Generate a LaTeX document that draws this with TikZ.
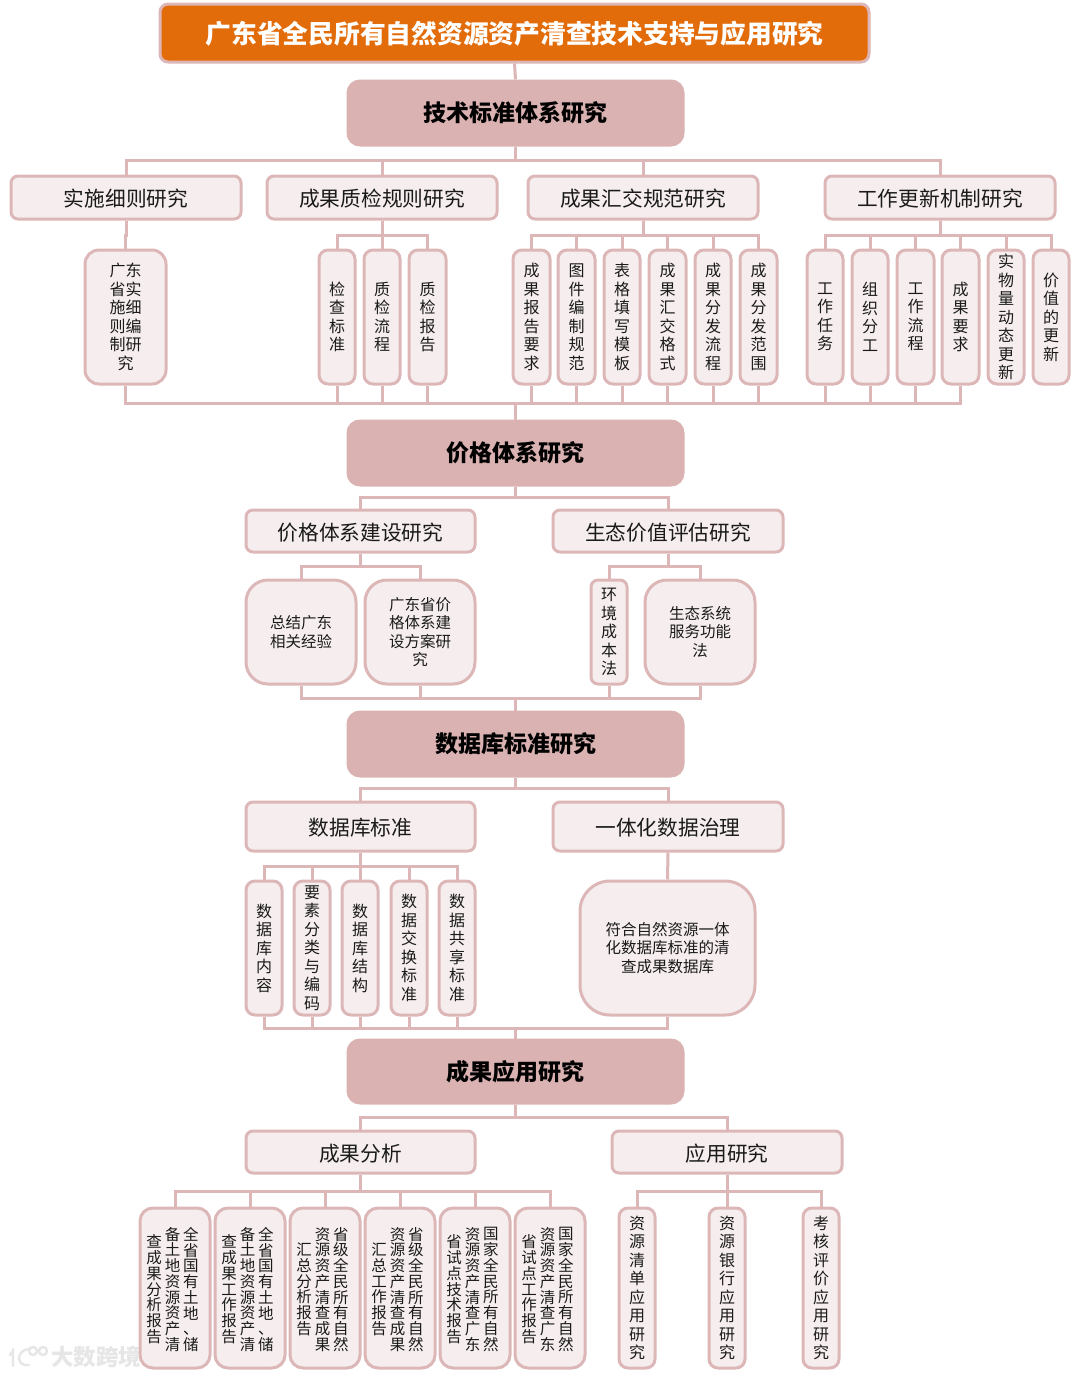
\documentclass[tikz,border=0pt]{standalone}
\usepackage{fontspec}
\setmainfont{Noto Sans CJK SC}
\definecolor{edgepink}{HTML}{DDB7B7}
\definecolor{panel}{HTML}{F6EEEE}
\definecolor{headpink}{HTML}{DBB2B2}
\definecolor{titleorange}{HTML}{E36C0A}
\definecolor{inkdark}{HTML}{1A1A1A}
\definecolor{wmgray}{HTML}{E6E6E6}
\makeatletter
% stacked upright characters: #1 = pitch, #2 = text
\newcommand\stackchars[2]{\vbox{\baselineskip=#1pt\lineskiplimit=-100pt\lineskip=0pt\@tfor\ch:=#2\do{\hbox to 1.15em{\hss\ch\hss}}}}
\newcommand\colchars[1]{$\vcenter{\stackchars{15.75}{#1}}$}
\makeatother
\newcommand\VT[1]{\stackchars{18.5}{#1}}
\newcommand\threecols[3]{\hbox{\vrule height 80pt depth 70pt width 0pt\colchars{#3}\hskip.5pt\colchars{#2}\hskip.5pt\colchars{#1}\hskip5pt}}
\newcommand\mybox[7][]{\node[#2,#1,minimum width={(#5-#3-2)*1pt},minimum height={(#6-#4-2)*1pt}] (#7) at ({(#3+#5)/2},{(#4+#6)/2})}
\newcommand\fanout[3]{\foreach \c in {#3}{\draw[conn] (#1.south) -- (#1.south |- #2) -| (\c.north);}}
\newcommand\fanin[3]{\foreach \c in {#1}{\draw[conn] (\c.south) -- (\c.south |- #2) -| (#3.north);}}
\tikzset{
  conn/.style={draw=edgepink,line width=3pt,line join=miter},
  basebox/.style={draw=edgepink,line width=3pt,inner sep=0pt,align=center,text=inkdark},
  titlebox/.style={basebox,fill=titleorange,rounded corners=8pt,text=white,text height=24pt,text depth=3pt,font=\fontsize{25.75}{30}\bfseries\selectfont},
  headbox/.style={basebox,fill=headpink,draw=headpink,rounded corners=12pt,text=black,font=\fontsize{23}{28}\bfseries\selectfont},
  subbox/.style={basebox,fill=panel,rounded corners=7pt,text height=20pt,text depth=2pt,font=\fontsize{20.7}{25}\selectfont},
  tallbox/.style={basebox,fill=panel,rounded corners=9pt,font=\fontsize{16}{18.5}\selectfont},
  widebox/.style={basebox,fill=panel,rounded corners=22pt,font=\fontsize{15.5}{18.5}\selectfont},
  bigbox/.style={basebox,fill=panel,rounded corners=30pt,font=\fontsize{15.5}{18.5}\selectfont},
  colbox/.style={basebox,fill=panel,rounded corners=13pt,font=\fontsize{15.5}{15.75}\selectfont},
  mark stroke/.style={draw=wmgray,line width=2.4pt,line cap=round},
}
\begin{document}
\begin{tikzpicture}[x=1pt,y=-1pt]
\useasboundingbox[fill=white] (0,0) rectangle (1080,1377);
% watermark
\node[text=wmgray,font=\fontsize{22.5}{24}\bfseries\selectfont,inner sep=0pt] (wm) at (96,1357) {大数跨境};
\draw[mark stroke] (13,1349) -- (13,1366) (13,1351) -- (10,1355);
\draw[mark stroke] (28,1349) .. controls (16,1351) and (16,1367) .. (29,1365);
\draw[mark stroke] (33,1351) circle (4) (43,1351) circle (4);
% buses
\coordinate (bus1) at (0,160);
\coordinate (bus2) at (0,235);
\coordinate (bus3) at (0,403);
\coordinate (bus4) at (0,497);
\coordinate (bus5) at (0,566);
\coordinate (bus6) at (0,698);
\coordinate (bus7) at (0,788);
\coordinate (bus8) at (0,866);
\coordinate (bus9) at (0,1028);
\coordinate (bus10) at (0,1117);
\coordinate (bus11) at (0,1191);
% title and heads
\mybox{titlebox}{159}{3}{870}{63}{title} {广东省全民所有自然资源资产清查技术支持与应用研究};
\mybox{headbox}{347}{80}{684}{146}{hA} {技术标准体系研究};
\mybox{headbox}{347}{420}{684}{486}{hB} {价格体系研究};
\mybox{headbox}{347}{711}{684}{777}{hC} {数据库标准研究};
\mybox{headbox}{347}{1039}{684}{1104}{hD} {成果应用研究};
% level 2
\mybox{subbox}{10}{175}{242}{220}{a1} {实施细则研究};
\mybox{subbox}{266}{175}{498}{220}{a2} {成果质检规则研究};
\mybox{subbox}{527}{175}{759}{220}{a3} {成果汇交规范研究};
\mybox{subbox}{824}{175}{1056}{220}{a4} {工作更新机制研究};
\mybox{subbox}{245}{509}{476}{553}{pa} {价格体系建设研究};
\mybox{subbox}{552}{509}{784}{553}{pb} {生态价值评估研究};
\mybox{subbox}{245}{801}{476}{852}{c1} {数据库标准};
\mybox{subbox}{552}{801}{784}{852}{c2} {一体化数据治理};
\mybox{subbox}{245}{1130}{476}{1174}{d1} {成果分析};
\mybox{subbox}{611}{1130}{843}{1174}{d2} {应用研究};
% technology leaves
\mybox[rounded corners=14pt]{tallbox}{84}{249}{167}{385}{a11} {广东\\省实\\施细\\则编\\制研\\究};
\mybox{tallbox}{318}{249}{356}{385}{a21} {\VT{检查标准}};
\mybox{tallbox}{363}{249}{401}{385}{a22} {\VT{质检流程}};
\mybox{tallbox}{408}{249}{447}{385}{a23} {\VT{质检报告}};
\mybox{tallbox}{512}{249}{551}{385}{a31} {\VT{成果报告要求}};
\mybox{tallbox}{557}{249}{596}{385}{a32} {\VT{图件编制规范}};
\mybox{tallbox}{603}{249}{641}{385}{a33} {\VT{表格填写模板}};
\mybox{tallbox}{648}{249}{687}{385}{a34} {\VT{成果汇交格式}};
\mybox{tallbox}{694}{249}{732}{385}{a35} {\VT{成果分发流程}};
\mybox{tallbox}{739}{249}{778}{385}{a36} {\VT{成果分发范围}};
\mybox{tallbox}{806}{249}{844}{385}{a41} {\VT{工作任务}};
\mybox{tallbox}{851}{249}{889}{385}{a42} {\VT{组织分工}};
\mybox{tallbox}{896}{249}{935}{385}{a43} {\VT{工作流程}};
\mybox{tallbox}{941}{249}{980}{385}{a44} {\VT{成果要求}};
\mybox{tallbox}{987}{249}{1025}{385}{a45} {\VT{实物量动态更新}};
\mybox{tallbox}{1032}{249}{1070}{385}{a46} {\VT{价值的更新}};
% price leaves
\mybox{widebox}{245}{579}{357}{685}{pa1} {总结广东\\相关经验};
\mybox{widebox}{364}{579}{476}{685}{pa2} {广东省价\\格体系建\\设方案研\\究};
\mybox[rounded corners=7pt]{tallbox}{590}{579}{628}{685}{pb1} {\VT{环境成本法}};
\mybox{widebox}{644}{579}{756}{685}{pb2} {生态系统\\服务功能\\法};
% database leaves
\mybox{tallbox}{245}{880}{283}{1016}{c11} {\VT{数据库内容}};
\mybox{tallbox}{293}{880}{331}{1016}{c12} {\VT{要素分类与编码}};
\mybox{tallbox}{341}{880}{379}{1016}{c13} {\VT{数据库结构}};
\mybox{tallbox}{390}{880}{428}{1016}{c14} {\VT{数据交换标准}};
\mybox{tallbox}{438}{880}{476}{1016}{c15} {\VT{数据共享标准}};
\mybox{bigbox}{579}{880}{756}{1016}{c21} {符合自然资源一体\\化数据库标准的清\\查成果数据库};
% application leaves
\mybox{colbox}{139}{1207}{211}{1369}{d11} {\threecols{全省国有土地、储}{备土地资源资产清}{查成果分析报告}};
\mybox{colbox}{214}{1207}{286}{1369}{d12} {\threecols{全省国有土地、储}{备土地资源资产清}{查成果工作报告}};
\mybox{colbox}{289}{1207}{361}{1369}{d13} {\threecols{省级全民所有自然}{资源资产清查成果}{汇总分析报告}};
\mybox{colbox}{364}{1207}{436}{1369}{d14} {\threecols{省级全民所有自然}{资源资产清查成果}{汇总工作报告}};
\mybox{colbox}{439}{1207}{511}{1369}{d15} {\threecols{国家全民所有自然}{资源资产清查广东}{省试点技术报告}};
\mybox{colbox}{514}{1207}{586}{1369}{d16} {\threecols{国家全民所有自然}{资源资产清查广东}{省试点工作报告}};
\mybox{tallbox}{618}{1207}{656}{1369}{d21} {\VT{资源清单应用研究}};
\mybox{tallbox}{708}{1207}{746}{1369}{d22} {\VT{资源银行应用研究}};
\mybox{tallbox}{802}{1207}{840}{1369}{d23} {\VT{考核评价应用研究}};
% connectors
\draw[conn] (title.south) -- (hA.north);
\fanout{hA}{bus1}{a1,a2,a3,a4}
\fanout{a1}{bus2}{a11}
\fanout{a2}{bus2}{a21,a22,a23}
\fanout{a3}{bus2}{a31,a32,a33,a34,a35,a36}
\fanout{a4}{bus2}{a41,a42,a43,a44,a45,a46}
\fanin{a11,a21,a22,a23,a31,a32,a33,a34,a35,a36,a41,a42,a43,a44}{bus3}{hB}
\fanout{hB}{bus4}{pa,pb}
\fanout{pa}{bus5}{pa1,pa2}
\fanout{pb}{bus5}{pb1,pb2}
\fanin{pa1,pa2,pb1,pb2}{bus6}{hC}
\fanout{hC}{bus7}{c1,c2}
\fanout{c1}{bus8}{c11,c12,c13,c14,c15}
\draw[conn] (c2.south) -- (c21.north);
\fanin{c11,c12,c13,c14,c15,c21}{bus9}{hD}
\fanout{hD}{bus10}{d1,d2}
\fanout{d1}{bus11}{d11,d12,d13,d14,d15,d16}
\fanout{d2}{bus11}{d21,d22,d23}
\end{tikzpicture}
\end{document}
